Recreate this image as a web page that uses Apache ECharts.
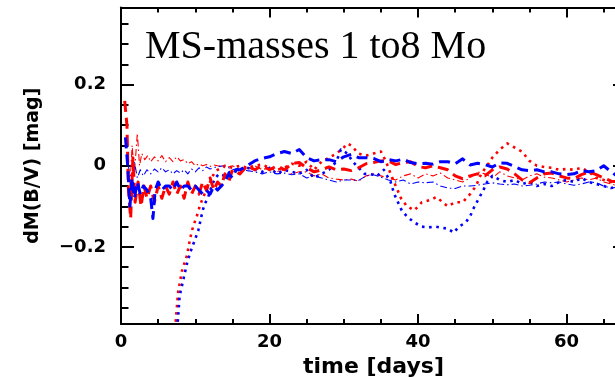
<!DOCTYPE html>
<html>
<head>
<meta charset="utf-8">
<script src="https://cdn.jsdelivr.net/npm/echarts@6/dist/echarts.min.js"></script>
<style>
  html, body { margin: 0; padding: 0; background: #fff; }
  #chart { width: 615px; height: 377px; }
</style>
</head>
<body>
<div id="chart"></div>
<script>
// Colour-excess light curves dM(B/V) vs time, main-sequence masses 1 to 8 Mo
const titleText = 'MS-masses 1 to8 Mo';
const xName = 'time [days]';
const yName = 'dM(B/V) [mag]';

const xMajorTicks = [0, 20, 40, 60];
const xMinorTicks = [5, 10, 15, 25, 30, 35, 45, 50, 55, 65];
const yMajorTicks = [-0.2, 0, 0.2];
const yMinorTicks = [-0.35, -0.3, -0.25, -0.15, -0.1, -0.05, 0.05, 0.1, 0.15, 0.25, 0.3, 0.35];

// [day, dM] pairs per model
const redDash = [[0.5,0.16],[0.8,0.10],[1.0,-0.06],[1.3,-0.13],[1.6,0.02],[1.9,-0.09],[2.3,-0.04],[2.7,-0.10],[3.1,-0.05],[3.5,-0.08],[4.0,-0.05],[4.5,-0.09],[5.0,-0.05],[5.5,-0.08],[6.0,-0.05],[6.5,-0.07],[7.0,-0.04],[7.5,-0.07],[8.0,-0.05],[8.5,-0.08],[9.0,-0.04],[9.5,-0.07],[10.0,-0.05],[10.5,-0.07],[11.0,-0.04],[11.5,-0.06],[12.0,-0.03],[12.5,-0.06],[13.0,-0.04],[13.5,-0.05],[14.0,-0.02],[14.5,-0.04],[15.0,-0.01],[16,-0.02],[17,0.0],[18,-0.01],[19,0.0],[20,-0.01],[21,0.0],[22,-0.01],[23,0.005],[24,0.008],[25,-0.005],[26,-0.015],[27,-0.01],[28,-0.003],[29,-0.01],[30,-0.008],[31,-0.012],[32,-0.005],[33,0.005],[34,0.008],[35,0.012],[36,0.012],[37,0.003],[38,0.008],[39,0.01],[40,-0.002],[41,-0.005],[42,0.0],[43,-0.005],[44,-0.01],[45,-0.025],[46,-0.032],[47,-0.025],[48,-0.02],[49,-0.025],[50,-0.01],[51,-0.003],[52,-0.008],[53,-0.02],[54,-0.035],[55,-0.042],[56,-0.03],[57,-0.02],[58,-0.018],[59,-0.025],[60,-0.03],[61,-0.032],[62,-0.022],[63,-0.015],[64,-0.022],[65,-0.03],[66,-0.038],[67,-0.04],[68,-0.04]];

const blueDash = [[0.6,0.07],[0.9,0.0],[1.2,-0.10],[1.5,-0.03],[1.8,-0.08],[2.2,-0.04],[2.6,-0.07],[3.0,-0.05],[3.5,-0.06],[4.0,-0.08],[4.3,-0.13],[4.6,-0.06],[5.0,-0.04],[5.5,-0.06],[6.0,-0.05],[6.5,-0.05],[7.0,-0.06],[7.5,-0.04],[8.0,-0.06],[8.5,-0.05],[9.0,-0.05],[9.5,-0.06],[10,-0.05],[10.5,-0.06],[11,-0.07],[11.5,-0.06],[12,-0.07],[12.5,-0.05],[13,-0.06],[13.5,-0.05],[14,-0.04],[14.5,-0.02],[15,-0.03],[15.5,-0.01],[16,-0.01],[17,0.0],[18,0.012],[19,0.018],[20,0.022],[21,0.03],[22,0.035],[23,0.03],[24,0.04],[25,0.02],[26,0.012],[27,0.015],[28,0.015],[29,0.01],[30,0.022],[31,0.028],[32,0.02],[33,0.02],[34,0.018],[35,0.01],[36,0.015],[37,0.012],[38,0.016],[39,0.008],[40,0.005],[41,0.006],[42,0.004],[43,0.01],[44,0.01],[45,0.005],[46,0.017],[47,0.002],[48,0.006],[49,0.003],[50,-0.003],[51,0.007],[52,0.006],[53,-0.002],[54,-0.01],[55,-0.012],[56,-0.01],[57,-0.015],[58,-0.015],[59,-0.02],[60,-0.022],[61,-0.02],[62,-0.012],[63,-0.015],[64,-0.012],[65,0.0],[66,-0.015],[67,-0.028],[68,-0.03]];

const redDot = [[7.2,-0.42],[7.7,-0.31],[8.2,-0.26],[8.9,-0.22],[9.3,-0.18],[9.7,-0.15],[10.2,-0.125],[10.6,-0.10],[11.0,-0.08],[11.5,-0.06],[12.0,-0.04],[12.5,-0.02],[13,-0.01],[14,0.0],[15,-0.005],[16,0.0],[17,-0.005],[18,0.0],[19,0.003],[20,-0.005],[21,-0.01],[22,-0.005],[23,0.005],[24,0.0],[25,0.01],[26,-0.01],[27,0.01],[28,0.02],[29,0.03],[30,0.045],[30.5,0.055],[31,0.05],[32,0.03],[33,0.025],[34,0.03],[35,0.035],[35.7,0.01],[36.3,-0.02],[37,-0.05],[37.7,-0.08],[38.5,-0.10],[39.5,-0.11],[40.5,-0.09],[41.5,-0.085],[42.5,-0.077],[43.3,-0.09],[44,-0.1],[45,-0.09],[46,-0.09],[47,-0.07],[47.8,-0.05],[48.5,-0.02],[49.3,0.0],[50,0.02],[51,0.04],[52,0.055],[53,0.045],[54,0.035],[55,0.012],[56,0.0],[57,-0.003],[58,-0.005],[59,-0.01],[60,-0.008],[61,-0.01],[62,-0.005],[63,-0.015],[64,-0.03],[65,-0.035],[66,-0.04],[67,-0.045],[68,-0.045]];

const blueDot = [[7.5,-0.42],[7.9,-0.32],[8.4,-0.28],[8.9,-0.24],[9.3,-0.215],[10,-0.18],[10.4,-0.16],[10.7,-0.135],[11,-0.11],[11.3,-0.093],[11.7,-0.08],[12.2,-0.05],[12.7,-0.03],[13.2,-0.02],[14,-0.025],[15,-0.01],[16,-0.015],[17,-0.005],[18,-0.01],[19,-0.015],[20,-0.005],[21,-0.02],[22,-0.01],[23,-0.015],[24,-0.02],[25,-0.01],[26,-0.03],[27,-0.02],[28,-0.01],[29,0.01],[29.6,0.04],[30.5,0.03],[31.2,0.01],[32,-0.005],[32.8,-0.02],[33.5,-0.02],[34.5,-0.025],[35.4,-0.01],[36.3,-0.04],[36.8,-0.07],[37.3,-0.09],[37.8,-0.11],[38.5,-0.125],[39.5,-0.14],[40.5,-0.15],[41.4,-0.152],[42.3,-0.15],[43,-0.152],[44,-0.155],[44.8,-0.165],[45.5,-0.15],[46.4,-0.14],[47,-0.125],[47.6,-0.1],[48.2,-0.08],[48.8,-0.06],[49.3,-0.04],[50,-0.025],[51,-0.035],[52,-0.04],[53,-0.035],[54,-0.045],[55,-0.04],[56,-0.05],[57,-0.045],[58,-0.05],[59,-0.04],[60,-0.035],[61,-0.04],[62,-0.03],[63,-0.04],[64,-0.045],[65,-0.05],[66,-0.055],[67,-0.05],[68,-0.05]];

const redThin = [[1.2,-0.05],[1.5,0.05],[1.8,-0.02],[2.2,0.08],[2.5,0.0],[2.8,0.03],[3.2,0.015],[3.6,0.025],[4.0,0.01],[4.5,0.022],[5.0,0.012],[5.5,0.025],[6.0,0.01],[6.5,0.02],[7.0,0.01],[7.5,0.022],[8.0,0.012],[8.5,0.015],[9.0,0.005],[9.5,0.01],[10,0.0],[10.5,0.005],[11,0.0],[11.5,0.003],[12,-0.002],[12.5,0.002],[13,0.0],[14,-0.005],[15,0.0],[16,-0.01],[17,-0.005],[18,0.0],[19,-0.01],[20,-0.005],[21,-0.015],[22,-0.01],[23,-0.02],[24,-0.015],[25,-0.015],[26,-0.025],[27,-0.02],[28,-0.03],[29,-0.033],[30,-0.035],[31,-0.033],[32,-0.038],[33,-0.025],[34,-0.02],[35,-0.025],[36,-0.03],[37,-0.035],[38,-0.025],[39,-0.02],[40,-0.03],[41,-0.02],[42,-0.025],[43,-0.018],[44,-0.03],[45,-0.035],[46,-0.04],[47,-0.03],[48,-0.015],[49,-0.02],[50,-0.03],[51,-0.015],[52,-0.025],[53,-0.03],[54,-0.035],[55,-0.025],[56,-0.02],[57,-0.028],[58,-0.03],[59,-0.035],[60,-0.04],[61,-0.035],[62,-0.03],[63,-0.035],[64,-0.03],[65,-0.04],[66,-0.045],[67,-0.05],[68,-0.05]];

const blueThin = [[1.0,0.0],[1.4,-0.06],[1.8,0.01],[2.2,-0.03],[2.6,-0.01],[3.0,-0.025],[3.5,-0.01],[4.0,-0.02],[4.5,-0.008],[5.0,-0.015],[5.5,-0.005],[6.0,-0.015],[6.5,-0.01],[7.0,-0.02],[7.5,-0.012],[8.0,-0.018],[8.5,-0.01],[9.0,-0.02],[9.5,-0.008],[10,-0.015],[10.5,-0.005],[11,-0.012],[11.5,-0.003],[12,-0.008],[13,-0.002],[14,0.0],[15,-0.01],[16,-0.005],[17,-0.012],[18,-0.015],[19,-0.02],[20,-0.015],[21,-0.02],[22,-0.018],[23,-0.022],[24,-0.02],[25,-0.03],[26,-0.025],[27,-0.03],[28,-0.035],[29,-0.04],[30,-0.035],[31,-0.035],[32,-0.036],[33,-0.025],[34,-0.022],[35,-0.028],[36,-0.035],[37,-0.04],[38,-0.035],[39,-0.045],[40,-0.04],[41,-0.042],[42,-0.04],[43,-0.05],[44,-0.055],[45,-0.056],[46,-0.05],[47,-0.05],[48,-0.048],[49,-0.045],[50,-0.042],[51,-0.045],[52,-0.047],[53,-0.045],[54,-0.05],[55,-0.048],[56,-0.045],[57,-0.04],[58,-0.042],[59,-0.04],[60,-0.045],[61,-0.048],[62,-0.045],[63,-0.04],[64,-0.042],[65,-0.05],[66,-0.055],[67,-0.052],[68,-0.05]];

const RED = '#ff0000';
const BLUE = '#0000ff';
const X_MIN = 0, X_MAX = 68;
const Y_MIN = -0.39, Y_MAX = 0.39;

const chart = echarts.init(document.getElementById('chart'), null, { renderer: 'canvas' });

const labelFont = { fontFamily: 'DejaVu Sans', fontWeight: 'bold', color: '#000' };

function xAxisDef(position, ticks, len, withLine, withLabel) {
  return {
    type: 'value', position, min: X_MIN, max: X_MAX, gridIndex: 0,
    axisLine: { show: withLine, onZero: false, lineStyle: { color: '#000', width: 2 } },
    axisTick: { show: true, inside: true, length: len, customValues: ticks, lineStyle: { color: '#000', width: 2 } },
    axisLabel: withLabel ? Object.assign({ show: true, fontSize: 18, margin: 9, customValues: xMajorTicks,
      formatter: v => String(v) }, labelFont) : { show: false },
    splitLine: { show: false }
  };
}

function yAxisDef(position, ticks, len, withLine, withLabel) {
  return {
    type: 'value', position, min: Y_MIN, max: Y_MAX, gridIndex: 0,
    axisLine: { show: withLine, onZero: false, lineStyle: { color: '#000', width: 2 } },
    axisTick: { show: true, inside: true, length: len, customValues: ticks, lineStyle: { color: '#000', width: 2 } },
    axisLabel: withLabel ? Object.assign({ show: true, fontSize: 18, margin: 15, customValues: yMajorTicks,
      formatter: v => (Math.abs(v) < 1e-9 ? '0' : (v < 0 ? '\u2212' : '') + Math.abs(v).toFixed(1)) }, labelFont) : { show: false },
    splitLine: { show: false }
  };
}

const xAxes = [
  xAxisDef('bottom', xMajorTicks, 10, true, true),
  xAxisDef('bottom', xMinorTicks, 5, false, false),
  xAxisDef('top', xMajorTicks, 10, true, false),
  xAxisDef('top', xMinorTicks, 5, false, false)
];
Object.assign(xAxes[0], {
  name: xName, nameLocation: 'middle', nameGap: 26,
  nameTextStyle: Object.assign({ fontSize: 22 }, labelFont)
});

const yAxes = [
  yAxisDef('left', yMajorTicks, 13, true, true),
  yAxisDef('left', yMinorTicks, 7.5, false, false),
  yAxisDef('right', yMajorTicks, 13, true, false),
  yAxisDef('right', yMinorTicks, 7.5, false, false)
];
Object.assign(yAxes[0], {
  name: yName, nameLocation: 'middle', nameGap: 78, nameRotate: 90,
  nameTextStyle: Object.assign({ fontSize: 19 }, labelFont)
});

function lineSeries(name, data, color, width, dash) {
  return {
    name, type: 'line', data, xAxisIndex: 0, yAxisIndex: 0,
    showSymbol: false, symbol: 'none', clip: true, animation: false,
    lineStyle: { color, width, type: dash, cap: 'butt', join: 'round' }
  };
}

chart.setOption({
  backgroundColor: '#fff',
  animation: false,
  title: {
    text: titleText, left: 145, top: 27, padding: 0,
    textStyle: { fontFamily: 'Liberation Serif', fontSize: 40, fontWeight: 'normal', color: '#000' }
  },
  grid: { left: 121, top: 7.5, width: 505, height: 316.5, containLabel: false, outerBoundsMode: 'none' },
  xAxis: xAxes,
  yAxis: yAxes,
  series: [
    lineSeries('red thin', redThin, RED, 1.1, [7, 3, 1.5, 3]),
    lineSeries('blue thin', blueThin, BLUE, 1.1, [7, 3, 1.5, 3]),
    lineSeries('red dotted', redDot, RED, 2.6, [2.6, 4.6]),
    lineSeries('blue dotted', blueDot, BLUE, 2.6, [2.6, 4.6]),
    lineSeries('red dashed', redDash, RED, 3, [11, 6]),
    lineSeries('blue dashed', blueDash, BLUE, 3, [11, 6])
  ]
});
</script>
</body>
</html>
